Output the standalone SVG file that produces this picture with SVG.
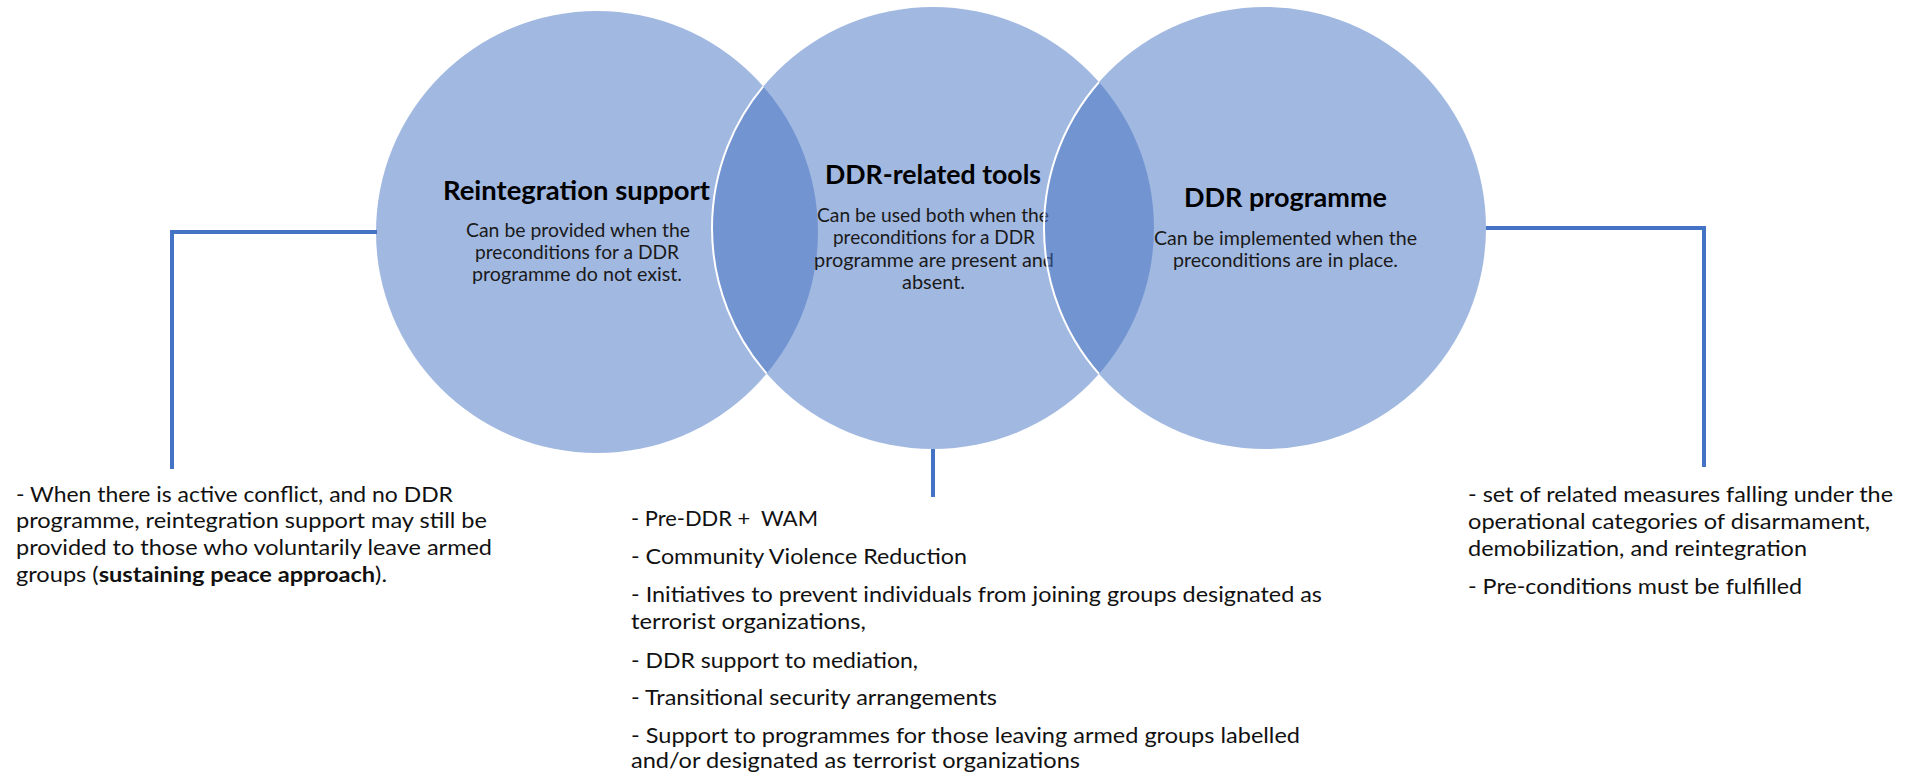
<svg xmlns="http://www.w3.org/2000/svg" width="1908" height="774" viewBox="0 0 1908 774">
  <style>
    .bg { fill: #ffffff; }
    .circ { fill: #4472C4; fill-opacity: 0.5; stroke: none; }
    .edge { fill: none; stroke: #ffffff; stroke-width: 2; }
    .conn { fill: none; stroke: #4472C4; stroke-width: 4; stroke-linejoin: miter; stroke-linecap: butt; }
    .t { font-family: Lato, "Open Sans", "Liberation Sans", sans-serif; fill: #000000; }
    .title { font-weight: bold; font-size: 26px; }
    .body { font-size: 20px; fill: #1a1a1a; }
    .list { font-size: 21px; fill: #111111; }
    .b { font-weight: bold; }
  </style>
  <defs>
    <clipPath id="clipL"><circle cx="597" cy="232" r="221"/></clipPath>
    <clipPath id="clipM"><circle cx="933" cy="228" r="221"/></clipPath>
  </defs>
  <rect class="bg" x="0" y="0" width="1908" height="774"/>

  <g id="connectors">
    <path class="conn" d="M377 232 H172 V469"/>
    <path class="conn" d="M933 449 V497"/>
    <path class="conn" d="M1486 228 H1704 V467"/>
  </g>

  <g id="node-reintegration">
    <circle class="circ" cx="597" cy="232" r="221"/>
    <text class="t title" x="443" y="200" textLength="267" lengthAdjust="spacingAndGlyphs">Reintegration support</text>
    <text class="t body" x="466" y="237" textLength="224" lengthAdjust="spacingAndGlyphs">Can be provided when the</text>
    <text class="t body" x="475" y="259" textLength="204" lengthAdjust="spacingAndGlyphs">preconditions for a DDR</text>
    <text class="t body" x="472" y="281" textLength="210" lengthAdjust="spacingAndGlyphs">programme do not exist.</text>
  </g>

  <g id="node-ddr-tools">
    <circle class="circ" cx="933" cy="228" r="221"/>
    <circle class="edge" cx="933" cy="228" r="221" clip-path="url(#clipL)"/>
    <text class="t title" x="825" y="184" textLength="216" lengthAdjust="spacingAndGlyphs">DDR-related tools</text>
    <text class="t body" x="817" y="222" textLength="232" lengthAdjust="spacingAndGlyphs">Can be used both when the</text>
    <text class="t body" x="833" y="244" textLength="202" lengthAdjust="spacingAndGlyphs">preconditions for a DDR</text>
    <text class="t body" x="814" y="267" textLength="240" lengthAdjust="spacingAndGlyphs">programme are present and</text>
    <text class="t body" x="902" y="289" textLength="63" lengthAdjust="spacingAndGlyphs">absent.</text>
  </g>

  <g id="node-ddr-programme">
    <circle class="circ" cx="1265" cy="228" r="221"/>
    <circle class="edge" cx="1265" cy="228" r="221" clip-path="url(#clipM)"/>
    <text class="t title" x="1184" y="207" textLength="203" lengthAdjust="spacingAndGlyphs">DDR programme</text>
    <text class="t body" x="1154" y="245" textLength="263" lengthAdjust="spacingAndGlyphs">Can be implemented when the</text>
    <text class="t body" x="1173" y="267" textLength="225" lengthAdjust="spacingAndGlyphs">preconditions are in place.</text>
  </g>

  <g id="note-reintegration">
    <text class="t list" x="16" y="502" textLength="437" lengthAdjust="spacingAndGlyphs">- When there is active conflict, and no DDR</text>
    <text class="t list" x="16" y="528" textLength="471" lengthAdjust="spacingAndGlyphs">programme, reintegration support may still be</text>
    <text class="t list" x="16" y="555" textLength="476" lengthAdjust="spacingAndGlyphs">provided to those who voluntarily leave armed</text>
    <text class="t list" x="16" y="582" textLength="371" lengthAdjust="spacingAndGlyphs">groups (<tspan class="b">sustaining peace approach</tspan>).</text>
  </g>

  <g id="note-ddr-tools">
    <text class="t list" x="631" y="526" textLength="187" lengthAdjust="spacingAndGlyphs" xml:space="preserve">- Pre-DDR +  WAM</text>
    <text class="t list" x="631" y="564" textLength="336" lengthAdjust="spacingAndGlyphs">- Community Violence Reduction</text>
    <text class="t list" x="631" y="602" textLength="691" lengthAdjust="spacingAndGlyphs">- Initiatives to prevent individuals from joining groups designated as</text>
    <text class="t list" x="631" y="629" textLength="235" lengthAdjust="spacingAndGlyphs">terrorist organizations,</text>
    <text class="t list" x="631" y="668" textLength="287" lengthAdjust="spacingAndGlyphs">- DDR support to mediation,</text>
    <text class="t list" x="631" y="705" textLength="366" lengthAdjust="spacingAndGlyphs">- Transitional security arrangements</text>
    <text class="t list" x="631" y="743" textLength="669" lengthAdjust="spacingAndGlyphs">- Support to programmes for those leaving armed groups labelled</text>
    <text class="t list" x="631" y="768" textLength="449" lengthAdjust="spacingAndGlyphs">and/or designated as terrorist organizations</text>
  </g>

  <g id="note-ddr-programme">
    <text class="t list" x="1468" y="502" textLength="425" lengthAdjust="spacingAndGlyphs">- set of related measures falling under the</text>
    <text class="t list" x="1468" y="529" textLength="402" lengthAdjust="spacingAndGlyphs">operational categories of disarmament,</text>
    <text class="t list" x="1468" y="556" textLength="339" lengthAdjust="spacingAndGlyphs">demobilization, and reintegration</text>
    <text class="t list" x="1468" y="594" textLength="334" lengthAdjust="spacingAndGlyphs">- Pre-conditions must be fulfilled</text>
  </g>
</svg>
